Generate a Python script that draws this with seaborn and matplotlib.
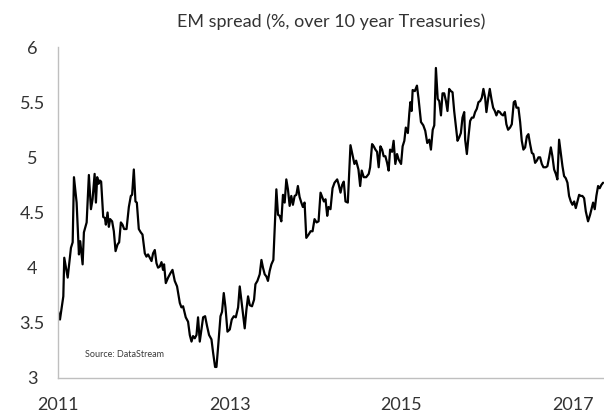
import numpy as np
import pandas as pd
import matplotlib
matplotlib.use("Agg")
import matplotlib.pyplot as plt
import matplotlib.dates as mdates
import seaborn as sns

# Weekly-ish observations, decimal years
years = [
    2011.003, 2011.023, 2011.062, 2011.073, 2011.113, 2011.151, 2011.171, 2011.186,
    2011.217, 2011.244, 2011.259, 2011.287, 2011.302, 2011.334, 2011.360, 2011.384,
    2011.403, 2011.427, 2011.442, 2011.457, 2011.473, 2011.488, 2011.503, 2011.527,
    2011.547, 2011.558, 2011.578, 2011.593, 2011.608, 2011.631, 2011.651, 2011.671,
    2011.694, 2011.713, 2011.733, 2011.752, 2011.771, 2011.799, 2011.826, 2011.849,
    2011.864, 2011.884, 2011.903, 2011.919, 2011.942, 2011.965, 2011.985, 2012.012,
    2012.031, 2012.050, 2012.070, 2012.090, 2012.108, 2012.128, 2012.148, 2012.166,
    2012.186, 2012.206, 2012.224, 2012.236, 2012.256, 2012.283, 2012.310, 2012.334,
    2012.360, 2012.387, 2012.419, 2012.438, 2012.457, 2012.488, 2012.515, 2012.535,
    2012.555, 2012.573, 2012.593, 2012.613, 2012.631, 2012.651, 2012.671, 2012.690,
    2012.713, 2012.736, 2012.759, 2012.787, 2012.806, 2012.829, 2012.845, 2012.864,
    2012.892, 2012.910, 2012.930, 2012.950, 2012.973, 2013.000, 2013.023, 2013.047,
    2013.070, 2013.097, 2013.116, 2013.143, 2013.174, 2013.194, 2013.213, 2013.233,
    2013.259, 2013.283, 2013.299, 2013.322, 2013.349, 2013.369, 2013.387, 2013.407,
    2013.427, 2013.445, 2013.465, 2013.485, 2013.508, 2013.543, 2013.562, 2013.581,
    2013.601, 2013.620, 2013.640, 2013.659, 2013.678, 2013.698, 2013.717, 2013.736,
    2013.756, 2013.776, 2013.794, 2013.814, 2013.834, 2013.852, 2013.872, 2013.892,
    2013.919, 2013.942, 2013.965, 2013.988, 2014.012, 2014.035, 2014.058, 2014.078,
    2014.097, 2014.116, 2014.136, 2014.151, 2014.174, 2014.198, 2014.221, 2014.252,
    2014.271, 2014.291, 2014.310, 2014.329, 2014.349, 2014.376, 2014.407, 2014.434,
    2014.453, 2014.473, 2014.500, 2014.520, 2014.538, 2014.562, 2014.590, 2014.620,
    2014.636, 2014.659, 2014.678, 2014.698, 2014.717, 2014.736, 2014.756, 2014.776,
    2014.794, 2014.814, 2014.834, 2014.852, 2014.869, 2014.892, 2014.910, 2014.930,
    2014.950, 2014.969, 2014.997, 2015.015, 2015.035, 2015.052, 2015.076, 2015.093,
    2015.105, 2015.120, 2015.132, 2015.157, 2015.182, 2015.201, 2015.229, 2015.256,
    2015.279, 2015.302, 2015.326, 2015.345, 2015.366, 2015.384, 2015.403, 2015.424,
    2015.442, 2015.462, 2015.480, 2015.500, 2015.520, 2015.538, 2015.558, 2015.578,
    2015.597, 2015.616, 2015.636, 2015.655, 2015.674, 2015.694, 2015.713, 2015.733,
    2015.744, 2015.764, 2015.783, 2015.802, 2015.822, 2015.841, 2015.860, 2015.880,
    2015.899, 2015.919, 2015.938, 2015.957, 2015.977, 2015.992, 2016.012, 2016.031,
    2016.050, 2016.070, 2016.090, 2016.108, 2016.128, 2016.148, 2016.166, 2016.186,
    2016.206, 2016.224, 2016.244, 2016.267, 2016.287, 2016.310, 2016.326, 2016.341,
    2016.364, 2016.384, 2016.403, 2016.422, 2016.442, 2016.462, 2016.480, 2016.500,
    2016.520, 2016.538, 2016.558, 2016.578, 2016.597, 2016.616, 2016.636, 2016.655,
    2016.683, 2016.701, 2016.721, 2016.741, 2016.759, 2016.779, 2016.799, 2016.817,
    2016.837, 2016.857, 2016.876, 2016.895, 2016.915, 2016.934, 2016.953, 2016.973,
    2016.992, 2017.012, 2017.031, 2017.050, 2017.070, 2017.090, 2017.108, 2017.128,
    2017.148, 2017.174, 2017.198, 2017.217, 2017.233, 2017.252, 2017.271, 2017.291,
    2017.310, 2017.329, 2017.349,
]

# EM spread over 10-year Treasuries, %
spread = [
    3.60, 3.53, 3.74, 4.09, 3.91, 4.18, 4.23, 4.82,
    4.59, 4.12, 4.24, 4.03, 4.32, 4.41, 4.84, 4.53,
    4.62, 4.85, 4.59, 4.82, 4.76, 4.79, 4.78, 4.46,
    4.45, 4.39, 4.50, 4.37, 4.44, 4.42, 4.33, 4.15,
    4.21, 4.23, 4.41, 4.39, 4.35, 4.35, 4.55, 4.65,
    4.66, 4.89, 4.60, 4.59, 4.35, 4.32, 4.30, 4.13,
    4.10, 4.12, 4.09, 4.06, 4.13, 4.16, 4.04, 4.00,
    4.01, 4.05, 3.98, 4.03, 3.86, 3.91, 3.95, 3.98,
    3.88, 3.83, 3.68, 3.64, 3.65, 3.55, 3.51, 3.39,
    3.33, 3.38, 3.36, 3.39, 3.55, 3.33, 3.44, 3.55,
    3.56, 3.47, 3.39, 3.35, 3.23, 3.10, 3.10, 3.28,
    3.56, 3.60, 3.77, 3.64, 3.42, 3.44, 3.53, 3.56,
    3.55, 3.64, 3.83, 3.65, 3.45, 3.62, 3.74, 3.66,
    3.65, 3.71, 3.85, 3.88, 3.94, 4.07, 4.00, 3.94,
    3.92, 3.88, 3.97, 4.03, 4.07, 4.71, 4.48, 4.47,
    4.42, 4.66, 4.59, 4.80, 4.71, 4.56, 4.65, 4.57,
    4.65, 4.66, 4.74, 4.64, 4.59, 4.55, 4.59, 4.27,
    4.30, 4.33, 4.33, 4.44, 4.41, 4.42, 4.68, 4.64,
    4.60, 4.62, 4.47, 4.55, 4.53, 4.72, 4.77, 4.80,
    4.75, 4.68, 4.75, 4.78, 4.60, 4.59, 5.11, 5.01,
    4.94, 4.97, 4.89, 4.74, 4.88, 4.82, 4.82, 4.85,
    4.91, 5.12, 5.10, 5.07, 5.05, 4.91, 5.10, 5.07,
    5.01, 5.01, 4.95, 4.88, 5.07, 5.05, 5.15, 4.94,
    5.03, 4.98, 4.94, 5.10, 5.15, 5.27, 5.22, 5.40,
    5.50, 5.42, 5.61, 5.60, 5.65, 5.53, 5.32, 5.29,
    5.24, 5.13, 5.16, 5.07, 5.25, 5.29, 5.81, 5.53,
    5.51, 5.38, 5.58, 5.58, 5.51, 5.42, 5.62, 5.60,
    5.59, 5.42, 5.28, 5.15, 5.18, 5.22, 5.36, 5.41,
    5.16, 5.03, 5.19, 5.33, 5.36, 5.36, 5.41, 5.44,
    5.50, 5.51, 5.54, 5.62, 5.54, 5.41, 5.53, 5.62,
    5.53, 5.45, 5.42, 5.38, 5.42, 5.41, 5.39, 5.38,
    5.41, 5.30, 5.25, 5.27, 5.30, 5.50, 5.51, 5.45,
    5.45, 5.32, 5.15, 5.07, 5.09, 5.19, 5.21, 5.12,
    5.04, 5.03, 4.95, 4.97, 5.00, 5.00, 4.94, 4.91,
    4.91, 4.92, 5.00, 5.09, 5.01, 4.89, 4.85, 4.80,
    5.16, 5.04, 4.92, 4.83, 4.81, 4.77, 4.65, 4.60,
    4.57, 4.60, 4.54, 4.60, 4.66, 4.65, 4.65, 4.63,
    4.51, 4.42, 4.48, 4.54, 4.59, 4.53, 4.65, 4.74,
    4.72, 4.75, 4.77,
]

tick_years = [2011, 2013, 2015, 2017]
y_ticks = [3, 3.5, 4, 4.5, 5, 5.5, 6]
title = "EM spread (%, over 10 year Treasuries)"
source_note = "Source: DataStream"


def to_date(y):
    yr = int(np.floor(y))
    start = pd.Timestamp(year=yr, month=1, day=1)
    end = pd.Timestamp(year=yr + 1, month=1, day=1)
    return start + (end - start) * (y - yr)


df = pd.DataFrame({"date": [to_date(y) for y in years], "spread": spread})

sns.set_theme(style="white")
plt.rcParams["font.family"] = ["Lato", "DejaVu Sans"]

text_col = "#333333"
axis_col = "#bfbfbf"

fig = plt.figure(figsize=(6.04, 4.12), dpi=100)
ax = fig.add_axes([58 / 604, 34 / 412, 546 / 604, 331 / 412])

sns.lineplot(data=df, x="date", y="spread", ax=ax, color="black", linewidth=1.6)

ax.set_xlim(to_date(2011.0), to_date(2017.36))
ax.set_ylim(3, 6)
ax.set_xticks([pd.Timestamp(year=y, month=1, day=1) for y in tick_years])
ax.xaxis.set_major_formatter(mdates.DateFormatter("%Y"))
ax.set_yticks(y_ticks)
ax.set_yticklabels([f"{v:g}" for v in y_ticks])
for lab in ax.get_yticklabels():
    lab.set_horizontalalignment("center")

ax.set_xlabel("")
ax.set_ylabel("")

sns.despine(ax=ax)
for side in ("left", "bottom"):
    ax.spines[side].set_color(axis_col)
    ax.spines[side].set_linewidth(1.0)

ax.tick_params(axis="x", direction="out", length=4.5, width=1.0, color=axis_col,
               pad=9, labelsize=13, labelcolor=text_col)
ax.tick_params(axis="y", direction="out", length=4.5, width=1.0, color=axis_col,
               pad=14, labelsize=13, labelcolor=text_col)

fig.text((58 + 604) / 2 / 604, 1 - 22 / 412, title, ha="center", va="center",
         fontsize=13, color=text_col)
ax.text(0.049, 0.07, source_note, transform=ax.transAxes, ha="left", va="center",
        fontsize=6.5, color="#3a3a3a")

fig.savefig("out.png", dpi=100)
